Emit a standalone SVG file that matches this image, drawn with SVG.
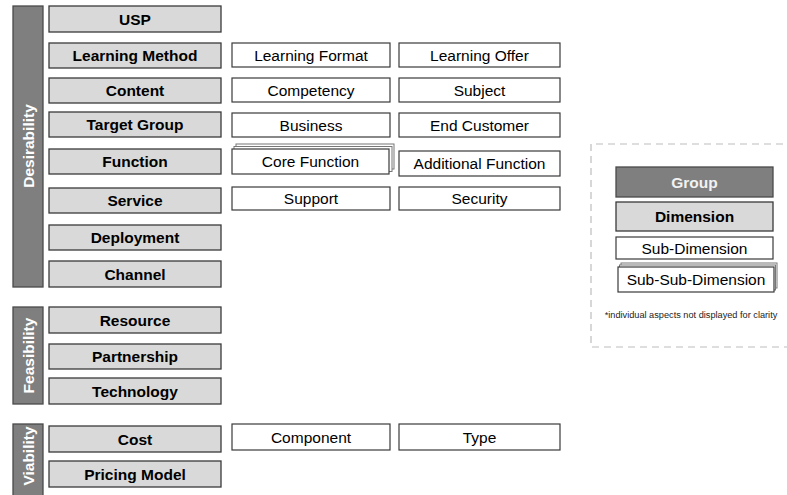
<svg xmlns="http://www.w3.org/2000/svg" width="787" height="495" viewBox="0 0 787 495">
<style>
text{font-family:"Liberation Sans",Arial,sans-serif;text-anchor:middle;dominant-baseline:central}
.grp{fill:#7f7f7f;stroke:#4a4a4a;stroke-width:1.3}
.grpt{fill:#fff;font-weight:bold;font-size:15.5px}
.dim{fill:#d9d9d9;stroke:#3a3a3a;stroke-width:1.3}
.dimt{fill:#000;font-weight:bold;font-size:15.5px}
.sub{fill:#fff;stroke:#3a3a3a;stroke-width:1.2}
.subt{fill:#000;font-size:15.5px}
.stk{fill:#fff;stroke:#777;stroke-width:1}
.leg{fill:none;stroke:#bdbdbd;stroke-width:1.2;stroke-dasharray:7 5}
</style>
<g id="connectors"/>
<!-- Groups -->
<g id="g-desirability"><rect class="grp" x="13" y="6" width="30" height="281"/><text class="grpt" transform="translate(28,146) rotate(-90)">Desirability</text></g>
<g id="g-feasibility"><rect class="grp" x="13" y="307" width="30" height="97"/><text class="grpt" transform="translate(28,355.5) rotate(-90)">Feasibility</text></g>
<g id="g-viability"><rect class="grp" x="13" y="424" width="30" height="75"/><text class="grpt" transform="translate(28,456) rotate(-90)">Viability</text></g>
<!-- Dimensions -->
<g id="d-usp"><rect class="dim" x="49" y="6" width="172" height="26"/><text class="dimt" x="135" y="19">USP</text></g>
<g id="d-learning-method"><rect class="dim" x="49" y="43" width="172" height="25"/><text class="dimt" x="135" y="55.5">Learning Method</text></g>
<g id="d-content"><rect class="dim" x="49" y="78" width="172" height="25"/><text class="dimt" x="135" y="90.5">Content</text></g>
<g id="d-target-group"><rect class="dim" x="49" y="112" width="172" height="25"/><text class="dimt" x="135" y="124.5">Target Group</text></g>
<g id="d-function"><rect class="dim" x="49" y="149" width="172" height="25"/><text class="dimt" x="135" y="161.5">Function</text></g>
<g id="d-service"><rect class="dim" x="49" y="188" width="172" height="25"/><text class="dimt" x="135" y="200.5">Service</text></g>
<g id="d-deployment"><rect class="dim" x="49" y="225" width="172" height="25"/><text class="dimt" x="135" y="237.5">Deployment</text></g>
<g id="d-channel"><rect class="dim" x="49" y="261" width="172" height="26"/><text class="dimt" x="135" y="274">Channel</text></g>
<g id="d-resource"><rect class="dim" x="49" y="307" width="172" height="26"/><text class="dimt" x="135" y="320">Resource</text></g>
<g id="d-partnership"><rect class="dim" x="49" y="344" width="172" height="25"/><text class="dimt" x="135" y="356.5">Partnership</text></g>
<g id="d-technology"><rect class="dim" x="49" y="378" width="172" height="26"/><text class="dimt" x="135" y="391">Technology</text></g>
<g id="d-cost"><rect class="dim" x="49" y="426" width="172" height="26"/><text class="dimt" x="135" y="439">Cost</text></g>
<g id="d-pricing-model"><rect class="dim" x="49" y="461" width="172" height="26"/><text class="dimt" x="135" y="474">Pricing Model</text></g>
<!-- Sub-dimensions -->
<g id="s-learning-format"><rect class="sub" x="232" y="43" width="158" height="24"/><text class="subt" x="311" y="55">Learning Format</text></g>
<g id="s-learning-offer"><rect class="sub" x="399" y="43" width="161" height="24"/><text class="subt" x="479.5" y="55">Learning Offer</text></g>
<g id="s-competency"><rect class="sub" x="232" y="78" width="158" height="24"/><text class="subt" x="311" y="90">Competency</text></g>
<g id="s-subject"><rect class="sub" x="399" y="78" width="161" height="24"/><text class="subt" x="479.5" y="90">Subject</text></g>
<g id="s-business"><rect class="sub" x="232" y="113" width="158" height="24"/><text class="subt" x="311" y="125">Business</text></g>
<g id="s-end-customer"><rect class="sub" x="399" y="113" width="161" height="24"/><text class="subt" x="479.5" y="125">End Customer</text></g>
<g id="s-core-function"><rect class="stk" x="236" y="144" width="158" height="25"/><rect class="stk" x="234" y="146.5" width="158" height="25"/><rect class="sub" x="232" y="149" width="157" height="25"/><text class="subt" x="310.5" y="161.5">Core Function</text></g>
<g id="s-additional-function"><rect class="sub" x="399" y="151" width="161" height="25"/><text class="subt" x="479.5" y="163.5">Additional Function</text></g>
<g id="s-support"><rect class="sub" x="232" y="187" width="158" height="23"/><text class="subt" x="311" y="198.5">Support</text></g>
<g id="s-security"><rect class="sub" x="399" y="187" width="161" height="23"/><text class="subt" x="479.5" y="198.5">Security</text></g>
<g id="s-component"><rect class="sub" x="232" y="424" width="158" height="26"/><text class="subt" x="311" y="437">Component</text></g>
<g id="s-type"><rect class="sub" x="399" y="424" width="161" height="26"/><text class="subt" x="479.5" y="437">Type</text></g>
<!-- Legend -->
<g id="legend">
<path class="leg" d="M795,144 H591 V347 H795"/>
<rect class="grp" x="616" y="167" width="157" height="30"/><text class="grpt" x="694.5" y="182.5" style="fill:#f2f2f2">Group</text>
<rect class="dim" x="616" y="202" width="157" height="29"/><text class="dimt" x="694.5" y="216.5">Dimension</text>
<rect class="sub" x="616" y="237" width="157" height="22"/><text class="subt" x="694.5" y="248">Sub-Dimension</text>
<rect class="stk" x="621" y="263" width="156" height="25"/><rect class="stk" x="619.5" y="265" width="156" height="25"/><rect class="sub" x="618" y="267" width="156" height="25"/><text class="subt" x="696" y="279.5">Sub-Sub-Dimension</text>
<text x="691" y="315" style="font-size:9.2px;fill:#222">*individual aspects not displayed for clarity</text>
</g>
</svg>
